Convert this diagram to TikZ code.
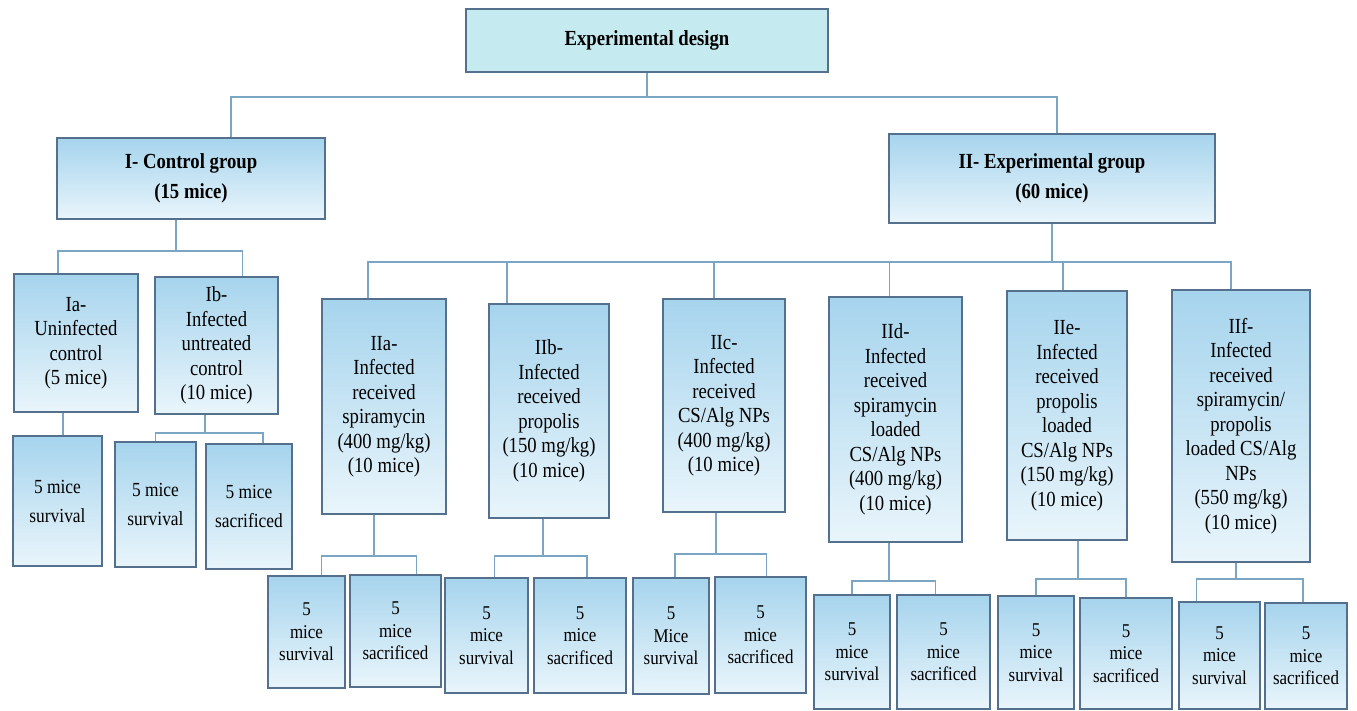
\documentclass[tikz,border=0pt]{standalone}
\usepackage{fontspec}
\setmainfont[FakeStretch=0.87]{Liberation Serif}
\usepackage{tikz}
\usetikzlibrary{%
  calc,%
  shadings%
}
\definecolor{boxline}{RGB}{84,112,140}
\definecolor{linkc}{RGB}{122,166,196}
\definecolor{boxtop}{RGB}{166,212,237}
\definecolor{boxbot}{RGB}{233,245,251}
\definecolor{headfill}{RGB}{197,234,240}

\begin{document}
\begin{tikzpicture}[x=1pt,y=-1pt,
  box/.style={draw=boxline,line width=1.2pt,top color=boxtop,bottom color=boxbot,
    align=center,inner sep=0pt},
  big/.style={font=\fontsize{21.5}{30}\selectfont\bfseries},
  grp/.style={font=\fontsize{21.5}{24.5}\selectfont},
  few/.style={font=\fontsize{20}{29}\selectfont},
  sub/.style={font=\fontsize{19.5}{22.5}\selectfont},
  link/.style={draw=linkc,line width=1.3pt}]
\useasboundingbox (0,0) rectangle (1357,711);

\node[draw=boxline,line width=1.2pt,fill=headfill,big,minimum width=362pt,minimum height=63pt] (top) at (647,40.5) {Experimental design};

\node[box,big,minimum width=268pt,minimum height=81pt] (ctl) at (191,178.5) {I- Control group\\(15 mice)};
\node[box,big,minimum width=326pt,minimum height=89pt] (exp) at (1052,178.5) {II- Experimental group\\(60 mice)};

\node[box,grp,minimum width=124pt,minimum height=138pt] (Ia) at (76,343) {Ia-\\Uninfected\\control\\(5 mice)};
\node[box,grp,minimum width=123pt,minimum height=137pt] (Ib) at (216.5,345.5) {Ib-\\Infected\\untreated\\control\\(10 mice)};
\node[box,few,minimum width=89pt,minimum height=130pt] (Ias) at (57.5,501) {5 mice\\survival};
\node[box,few,minimum width=81pt,minimum height=125pt] (Ibs) at (155.5,504.5) {5 mice\\survival};
\node[box,few,minimum width=86pt,minimum height=125pt] (Ibx) at (249,506.5) {5 mice\\sacrificed};

\node[box,grp,minimum width=124pt,minimum height=215pt] (IIa) at (384,406.5) {IIa-\\Infected\\received\\spiramycin\\(400 mg/kg)\\(10 mice)};
\node[box,grp,minimum width=120pt,minimum height=214pt] (IIb) at (549,411) {IIb-\\Infected\\received\\propolis\\(150 mg/kg)\\(10 mice)};
\node[box,grp,minimum width=122pt,minimum height=213pt] (IIc) at (724,405.5) {IIc-\\Infected\\received\\CS/Alg NPs\\(400 mg/kg)\\(10 mice)};
\node[box,grp,minimum width=133pt,minimum height=245pt] (IId) at (895.5,419.5) {IId-\\Infected\\received\\spiramycin\\loaded\\CS/Alg NPs\\(400 mg/kg)\\(10 mice)};
\node[box,grp,minimum width=120pt,minimum height=249pt] (IIe) at (1067,415.5) {IIe-\\Infected\\received\\propolis\\loaded\\CS/Alg NPs\\(150 mg/kg)\\(10 mice)};
\node[box,grp,minimum width=138pt,minimum height=272pt] (IIf) at (1241,426) {IIf-\\Infected\\received\\spiramycin/\\propolis\\loaded CS/Alg\\NPs\\(550 mg/kg)\\(10 mice)};

\node[box,sub,minimum width=77pt,minimum height=112pt] (IIas) at (306.5,632) {5\\mice\\survival};
\node[box,sub,minimum width=91pt,minimum height=112pt] (IIax) at (395.5,631) {5\\mice\\sacrificed};
\node[box,sub,minimum width=83pt,minimum height=115pt] (IIbs) at (486.5,635.5) {5\\mice\\survival};
\node[box,sub,minimum width=92pt,minimum height=115pt] (IIbx) at (580,635.5) {5\\mice\\sacrificed};
\node[box,sub,minimum width=76pt,minimum height=116pt] (IIcs) at (671,636) {5\\Mice\\survival};
\node[box,sub,minimum width=91pt,minimum height=116pt] (IIcx) at (760.5,635) {5\\mice\\sacrificed};
\node[box,sub,minimum width=76pt,minimum height=114pt] (IIds) at (852,652) {5\\mice\\survival};
\node[box,sub,minimum width=93pt,minimum height=114pt] (IIdx) at (943.5,652) {5\\mice\\sacrificed};
\node[box,sub,minimum width=76pt,minimum height=113pt] (IIes) at (1036,652.5) {5\\mice\\survival};
\node[box,sub,minimum width=92pt,minimum height=111pt] (IIex) at (1126,653.5) {5\\mice\\sacrificed};
\node[box,sub,minimum width=81pt,minimum height=107pt] (IIfs) at (1219.5,655.5) {5\\mice\\survival};
\node[box,sub,minimum width=82pt,minimum height=106pt] (IIfx) at (1306,656) {5\\mice\\sacrificed};

\coordinate (j0) at (647,97);
\coordinate (jI) at (176,251);
\coordinate (jIb) at (205,433);
\coordinate (jII) at (1052,262);
\coordinate (jIIa) at (374,556);
\coordinate (jIIb) at (543,556);
\coordinate (jIIc) at (716,554);
\coordinate (jIId) at (889,581);
\coordinate (jIIe) at (1078,579);
\coordinate (jIIf) at (1236,579);

\draw[link] (top.south) -- (j0)
            ([xshift=40pt]ctl.north) |- (j0) -| ([xshift=5pt]exp.north);
\draw[link] (ctl.south -| jI) -- (jI)
            ([xshift=-18pt]Ia.north) |- (jI) -| ([xshift=26pt]Ib.north);
\draw[link] ([xshift=-13pt]Ia.south) -- ([xshift=-13pt]Ia.south |- Ias.north);
\draw[link] (Ib.south -| jIb) -- (jIb)
            (Ibs.north) |- (jIb) -| ([xshift=14pt]Ibx.north);

\draw[link] (exp.south) -- (jII)
            ([xshift=-16pt]IIa.north) |- (jII) -| ([xshift=-10pt]IIf.north)
            ([xshift=-42pt]IIb.north) -- ([xshift=-42pt]IIb.north |- jII)
            ([xshift=-10pt]IIc.north) -- ([xshift=-10pt]IIc.north |- jII)
            ([xshift=-6pt]IId.north) -- ([xshift=-6pt]IId.north |- jII)
            ([xshift=-4pt]IIe.north) -- ([xshift=-4pt]IIe.north |- jII);

\draw[link] (IIa.south -| jIIa) -- (jIIa)
            ([xshift=15pt]IIas.north) |- (jIIa) -| ([xshift=21pt]IIax.north);
\draw[link] (IIb.south -| jIIb) -- (jIIb)
            ([xshift=8pt]IIbs.north) |- (jIIb) -| ([xshift=7pt]IIbx.north);
\draw[link] (IIc.south -| jIIc) -- (jIIc)
            ([xshift=4pt]IIcs.north) |- (jIIc) -| ([xshift=6pt]IIcx.north);
\draw[link] (IId.south -| jIId) -- (jIId)
            (IIds.north) |- (jIId) -| ([xshift=-8pt]IIdx.north);
\draw[link] (IIe.south -| jIIe) -- (jIIe)
            (IIes.north) |- (jIIe) -| (IIex.north);
\draw[link] (IIf.south -| jIIf) -- (jIIf)
            ([xshift=-23pt]IIfs.north) |- (jIIf) -| ([xshift=-3pt]IIfx.north);
\end{tikzpicture}
\end{document}
